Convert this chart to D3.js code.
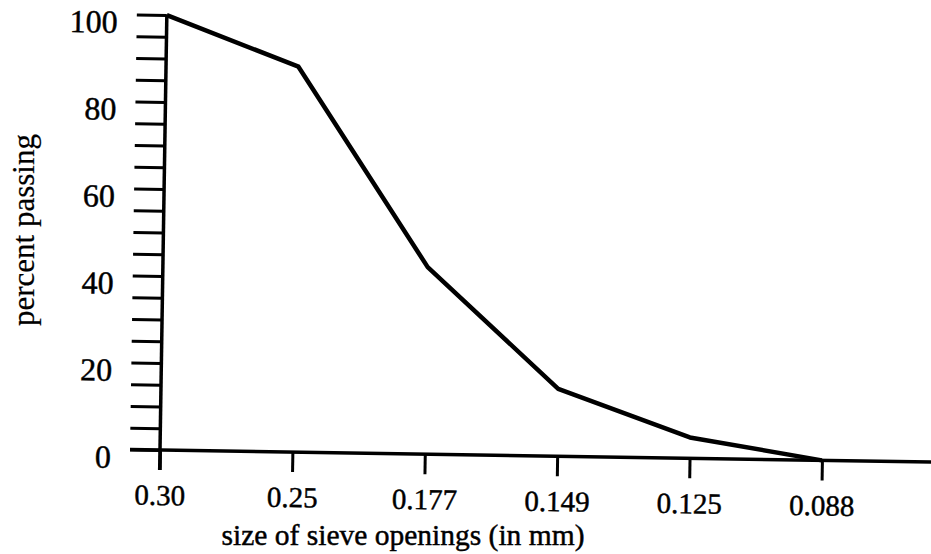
<!DOCTYPE html>
<html>
<head>
<meta charset="utf-8">
<script src="https://d3js.org/d3.v7.min.js"></script>
<style>
    body { margin: 0; background: #fff; }
    text { font-family: "Liberation Serif", "Times New Roman", serif; fill: #000; stroke: #000; stroke-width: 0.45px; }
    .tick line { stroke: #000; stroke-width: 3px; }
    .domain { display: none; }
</style>
</head>
<body>
<svg class="target" width="931" height="554"></svg>
<script>

    // sieve sizes (mm) and percent passing
    let sieves = ["0.30", "0.25", "0.177", "0.149", "0.125", "0.088"];
    let passing = [100, 88.6, 43, 15.5, 4.8, 0];
    let yTicks = d3.range(0, 101, 5);
    let yLabels = [0, 20, 40, 60, 80, 100];

    let svg = d3.select(".target");

    let ox = 160, oy = 450;

    let x = d3.scalePoint()
        .domain(sieves)
        .range([ox, 822]);

    let y = d3.scaleLinear()
        .domain([0, 100])
        .range([oy, 15]);

    // the scan is a little tilted, keep that
    let g = svg.append("g")
        .attr("transform", "rotate(0.9," + ox + "," + oy + ")");

    let yAxis = g.append("g")
        .attr("transform", "translate(" + ox + ",0)")
        .call(d3.axisLeft(y)
            .tickValues(yTicks)
            .tickSize(30)
            .tickFormat(d => yLabels.includes(d) ? d : ""));

    yAxis.selectAll("text")
        .attr("x", -49)
        .attr("dy", 0)
        .attr("y", 18)
        .style("font-size", "32px");

    let xAxis = g.append("g")
        .attr("transform", "translate(0," + oy + ")")
        .call(d3.axisBottom(x).tickSize(20));

    xAxis.selectAll("text")
        .attr("y", 55)
        .attr("dy", 0)
        .style("font-size", "29px");

    // axis lines
    g.append("line")
        .attr("x1", ox).attr("x2", ox)
        .attr("y1", y(100)).attr("y2", oy + 20)
        .attr("stroke", "#000").attr("stroke-width", 3.5);

    g.append("line")
        .attr("x1", ox - 30).attr("x2", 940)
        .attr("y1", oy).attr("y2", oy)
        .attr("stroke", "#000").attr("stroke-width", 3.5);

    let line = d3.line()
        .x((d, i) => x(sieves[i]))
        .y(d => y(d));

    g.append("path")
        .datum(passing)
        .attr("fill", "none")
        .attr("stroke", "#000")
        .attr("stroke-width", 4.5)
        .attr("stroke-linejoin", "round")
        .attr("d", line);

    svg.append("text")
        .attr("x", 403)
        .attr("y", 545)
        .attr("text-anchor", "middle")
        .style("font-size", "29.5px")
        .text("size of sieve openings (in mm)");

    svg.append("text")
        .attr("transform", "translate(34,230) rotate(-90)")
        .attr("text-anchor", "middle")
        .style("font-size", "31px")
        .style("stroke-width", "0.2px")
        .text("percent passing");

</script>
</body>
</html>
